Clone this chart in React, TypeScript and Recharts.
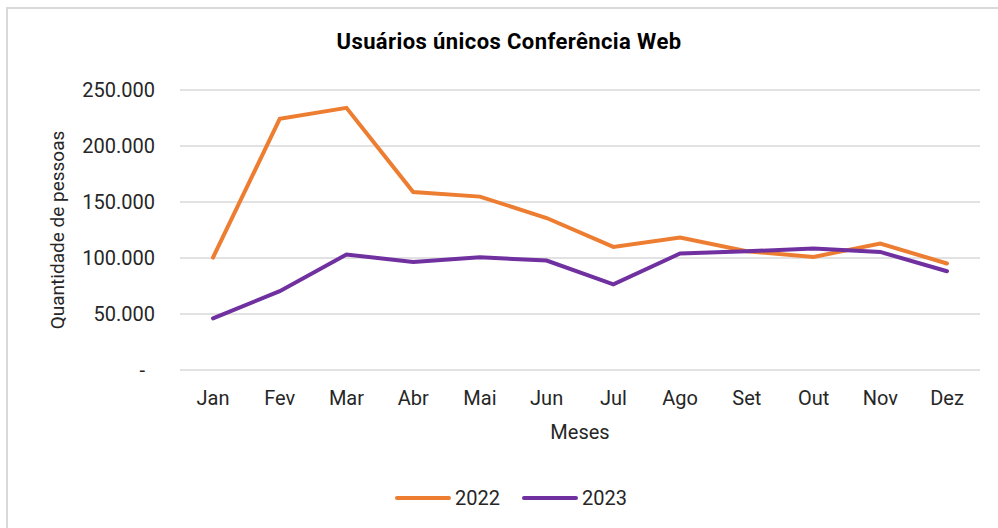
import React from "react";
import { LineChart, Line, CartesianGrid, XAxis, YAxis } from "recharts";

const months = ["Jan", "Fev", "Mar", "Abr", "Mai", "Jun", "Jul", "Ago", "Set", "Out", "Nov", "Dez"];
const users2022 = [100400, 224300, 234100, 158900, 154800, 135700, 109900, 118300, 106000, 101000, 112900, 95100];
const users2023 = [46100, 70400, 103100, 96500, 100700, 97700, 76400, 104000, 106000, 108400, 105400, 88200];
const yTicks = [0, 50000, 100000, 150000, 200000, 250000];

const data = months.map((m, i) => ({ month: m, y2022: users2022[i], y2023: users2023[i] }));

const series = [
  { key: "y2022", name: "2022", color: "#ED7D31" },
  { key: "y2023", name: "2023", color: "#7030A0" },
];

const FONT = "Roboto, 'Noto Sans', sans-serif";

const fmt = (v: number) =>
  v === 0 ? "-\u00a0\u00a0" : v.toString().replace(/\B(?=(\d{3})+(?!\d))/g, ".");

export default function App() {
  return (
    <div style={{ position: "absolute", left: 0, top: 0, width: 998, height: 528, overflow: "hidden", background: "#fff" }}>
      <div style={{ position: "absolute", left: 6, top: 7, width: 1010, height: 540, border: "2px solid #d9d9d9" }} />
      <div
        style={{
          position: "absolute",
          left: 0,
          width: 1018,
          top: 29,
          textAlign: "center",
          fontFamily: FONT,
          fontWeight: 700,
          fontSize: 22,
          letterSpacing: 0.4,
          color: "#000",
        }}
      >
        Usuários únicos Conferência Web
      </div>
      <div style={{ position: "absolute", left: 0, top: 0 }}>
        <LineChart width={998} height={528} data={data} margin={{ top: 90, right: 18, left: 0, bottom: 128 }}>
          <CartesianGrid vertical={false} stroke="#d9d9d9" strokeWidth={1.5} />
          <XAxis
            dataKey="month"
            height={30}
            padding={{ left: 33, right: 33 }}
            axisLine={false}
            tickLine={false}
            tickSize={0}
            tickMargin={21}
            tick={{ fill: "#262626", fontSize: 20, fontFamily: FONT }}
            label={{ value: "Meses", position: "bottom", offset: 25, fill: "#262626", fontSize: 20, fontFamily: FONT }}
          />
          <YAxis
            width={180}
            domain={[0, 250000]}
            ticks={yTicks}
            axisLine={false}
            tickLine={false}
            tickSize={0}
            tickMargin={25}
            tickFormatter={fmt}
            tick={{ fill: "#262626", fontSize: 20, fontFamily: FONT }}
            label={{
              content: ({ viewBox }: any) => {
                const cy = viewBox.y + viewBox.height / 2;
                return (
                  <text
                    x={57}
                    y={cy}
                    transform={`rotate(-90, 57, ${cy})`}
                    textAnchor="middle"
                    dominantBaseline="central"
                    fill="#262626"
                    fontSize={19}
                    fontFamily={FONT}
                  >
                    Quantidade de pessoas
                  </text>
                );
              },
            }}
          />
          {series.map((s) => (
            <Line
              key={s.key}
              name={s.name}
              dataKey={s.key}
              stroke={s.color}
              strokeWidth={4}
              dot={false}
              isAnimationActive={false}
              strokeLinecap="round"
            />
          ))}
        </LineChart>
      </div>
      <div
        style={{
          position: "absolute",
          top: 486,
          left: 0,
          width: 998,
          display: "flex",
          justifyContent: "center",
          gap: 22,
          paddingLeft: 24,
          boxSizing: "border-box",
          fontFamily: FONT,
          fontSize: 20,
          color: "#262626",
        }}
      >
        {series.map((s) => (
          <div key={s.key} style={{ display: "flex", alignItems: "center", gap: 4 }}>
            <svg width={56} height={6}>
              <line x1={2} y1={3} x2={54} y2={3} stroke={s.color} strokeWidth={4} strokeLinecap="round" />
            </svg>
            <span>{s.name}</span>
          </div>
        ))}
      </div>
    </div>
  );
}
